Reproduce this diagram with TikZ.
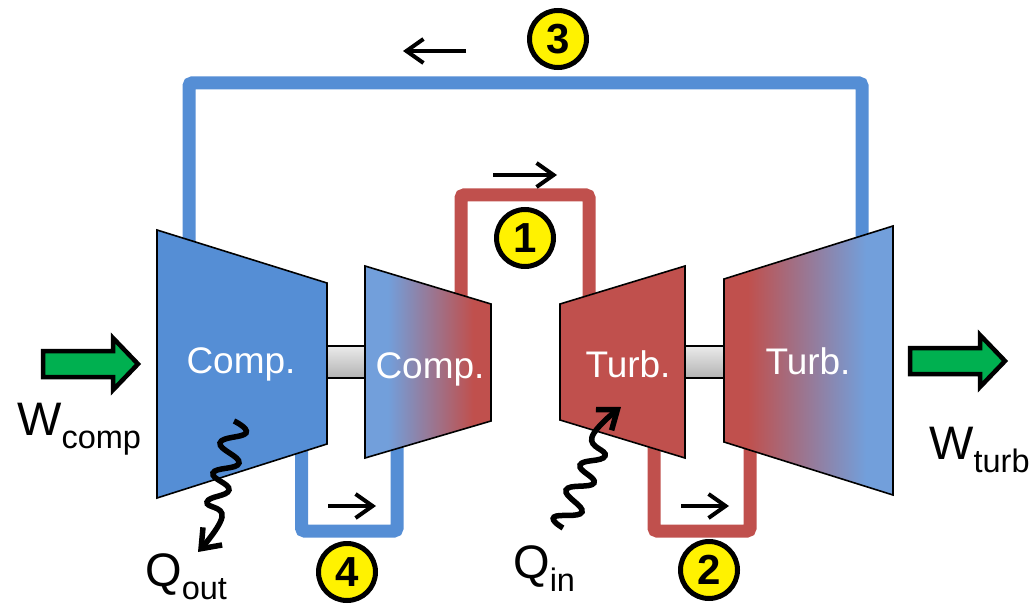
\documentclass[tikz,border=0pt]{standalone}
\usepackage{fontspec}
\setmainfont{Liberation Sans}
\usetikzlibrary{arrows.meta,calc}
\definecolor{pipeblue}{HTML}{558ED5}
\definecolor{pipered}{HTML}{C0504D}
\definecolor{softblue}{HTML}{729FDB}
\definecolor{flowgreen}{HTML}{00B050}
\pgfdeclarehorizontalshading{coldhot}{100bp}{color(0bp)=(softblue); color(34bp)=(softblue); color(68bp)=(pipered); color(100bp)=(pipered)}
\pgfdeclarehorizontalshading{hotcold}{100bp}{color(0bp)=(pipered); color(32bp)=(pipered); color(67bp)=(softblue); color(100bp)=(softblue)}
\pgfdeclareverticalshading{shaftgrey}{100bp}{color(0bp)=(black!30); color(25bp)=(black!30); color(75bp)=(black!8); color(100bp)=(black!8)}
\tikzset{
  trap style/.style={draw=black, line width=1.6pt, line join=miter},
  pipe style/.style={line width=13pt, rounded corners=3pt},
  arr style/.style={-{Straight Barb[length=17pt,width=24pt,line width=4pt]}, line width=4pt},
  wave style/.style={-{Straight Barb[length=17pt,width=26pt,line width=5.5pt]}, line width=5.5pt},
  flow style/.style={draw=black, fill=flowgreen, line width=4.5pt, miter limit=10},
  nd style/.style={circle, draw=black, fill=yellow, line width=5pt, minimum size=57pt, inner sep=0pt,
    font=\fontsize{42}{42}\selectfont\bfseries},
  machine style/.style={anchor=base, text=white, inner sep=0pt, font=\fontsize{37}{40}\selectfont},
  lbl style/.style={anchor=base west, inner sep=0pt, font=\fontsize{47}{50}\selectfont}
}
\newcommand{\withsub}[1]{\raisebox{-13pt}{\fontsize{32.5}{32.5}\selectfont #1}}
\begin{document}
\begin{tikzpicture}[x=1pt,y=-1pt]
\useasboundingbox (0,0) rectangle (1030,604);
\coordinate (p3a) at (189,245);
\coordinate (p3b) at (862,240);
\coordinate (p1a) at (461,300);
\coordinate (p1b) at (589,300);
\coordinate (p4a) at (301.5,440);
\coordinate (p4b) at (397,445);
\coordinate (p2a) at (654,440);
\coordinate (p2b) at (750,445);
\draw[pipe style, pipeblue] (p3a)--(p3a|-0,83)--(p3b|-0,83)--(p3b);
\draw[pipe style, pipered] (p1a)--(p1a|-0,195)--(p1b|-0,195)--(p1b);
\draw[pipe style, pipeblue] (p4a)--(p4a|-0,531)--(p4b|-0,531)--(p4b);
\draw[pipe style, pipered] (p2a)--(p2a|-0,531)--(p2b|-0,531)--(p2b);
\draw[line width=1.6pt, shading=shaftgrey] (327,346) rectangle (365,378);
\draw[line width=1.6pt, shading=shaftgrey] (685,346) rectangle (724,378);
\draw[trap style, fill=pipeblue] (157,230)--(327,283)--(327,444)--(157,498)--cycle;
\draw[trap style, shading=coldhot] (365,266)--(491,304)--(491,421)--(365,458)--cycle;
\draw[trap style, fill=pipered] (560,304)--(685,266)--(685,458)--(560,420)--cycle;
\draw[trap style, shading=hotcold] (724,279)--(893,226)--(893,495)--(724,442)--cycle;
\node[machine style] (comp1) at (241,373) {Comp.};
\node[machine style] (comp2) at (430,378) {Comp.};
\node[machine style] (turb1) at (628,377) {Turb.};
\node[machine style] (turb2) at (808,374) {Turb.};
\draw[flow style] (43,351)--(113,351)--(113,338)--(138,364)--(113,390)--(113,377)--(43,377)--cycle;
\draw[flow style, shift={(867,-3)}] (43,351)--(113,351)--(113,338)--(138,364)--(113,390)--(113,377)--(43,377)--cycle;
\node[nd style] (n3) at (558,39) {3};
\node[nd style] (n1) at (525,238) {1};
\node[nd style] (n4) at (347,572) {4};
\node[nd style] (n2) at (709,570) {2};
\coordinate (a3a) at (466,51);
\coordinate (a3b) at (403,51);
\coordinate (a1a) at (493,175);
\coordinate (a1b) at (557,175);
\coordinate (a4a) at (328,506);
\coordinate (a4b) at (376,506);
\coordinate (a2a) at (681,506);
\coordinate (a2b) at (729,506);
\draw[arr style] (a3a)--(a3b);
\draw[arr style] (a1a)--(a1b);
\draw[arr style] (a4a)--(a4b);
\draw[arr style] (a2a)--(a2b);
\coordinate (qouta) at (234,421);
\coordinate (qoutb) at (198,552);
\coordinate (qina) at (563,528);
\coordinate (qinb) at (621,407);
\draw[wave style] plot[smooth, tension=0.8] coordinates {(qouta) (246,433) (220,443) (239,463) (213,473) (229,490) (207,502) (222,517) (qoutb)};
\draw[wave style] plot[smooth, tension=0.8] coordinates {(qina) (554,517) (582,512) (566,490) (594,483) (580,465) (605,456) (592,437) (qinb)};
\node[lbl style] (wcomp) at (17,435) {W\withsub{comp}};
\node[lbl style] (wturb) at (929,459) {W\withsub{turb}};
\node[lbl style] (qout) at (145,586) {Q\withsub{out}};
\node[lbl style] (qin) at (513,578) {Q\withsub{in}};
\end{tikzpicture}
\end{document}
